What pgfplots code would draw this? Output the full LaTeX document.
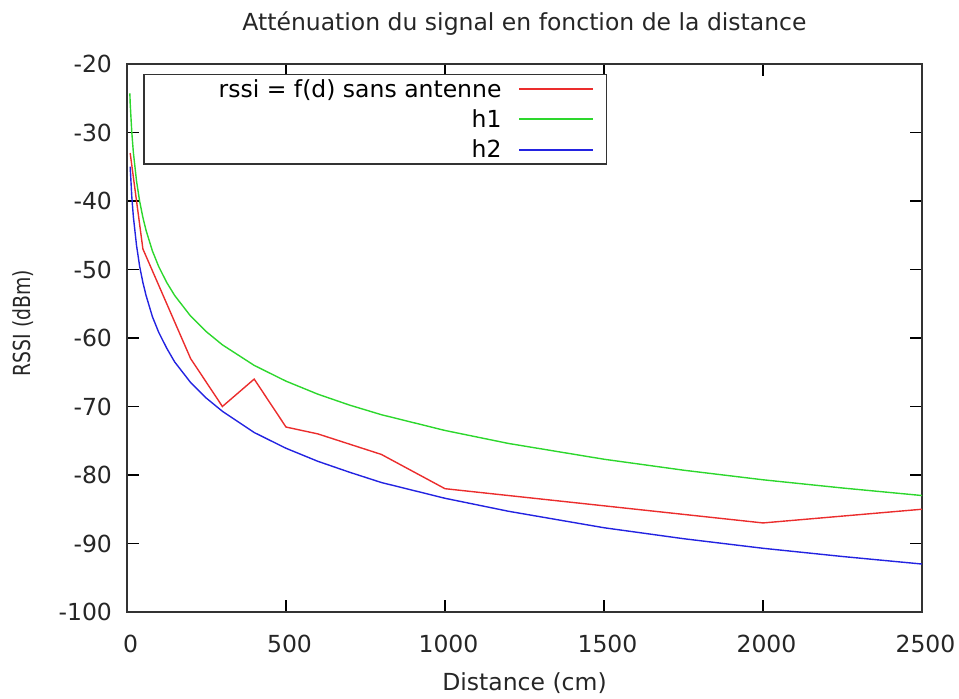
\documentclass[border=0pt]{standalone}
\usepackage{fontspec}
\setmainfont{DejaVu Sans}
\usepackage{graphicx}
\usepackage{pgfplots}
\pgfplotsset{compat=1.18}

\definecolor{cred}{RGB}{235,45,45}
\definecolor{cgreen}{RGB}{45,215,45}
\definecolor{cblue}{RGB}{35,35,225}

\begin{document}
\begin{tikzpicture}
\begin{axis}[
  scale only axis,
  width=397.5pt, height=274pt,
  xmin=0, xmax=2500,
  ymin=-100, ymax=-20,
  xtick={0,500,1000,1500,2000,2500},
  ytick={-100,-90,-80,-70,-60,-50,-40,-30,-20},
  tick align=inside,
  major tick length=6pt,
  tick style={black, line width=0.7pt},
  axis line style={line width=0.8pt, black!80},
  /pgf/number format/assume math mode=true,
  /pgf/number format/1000 sep={},
  tick label style={font=\fontsize{11.75}{14}\selectfont, text=black!85},
  xticklabel style={yshift=-8pt, xshift=1.75pt},
  yticklabel style={xshift=-4pt},
  title={Atténuation du signal en fonction de la distance},
  title style={font=\fontsize{11.75}{14}\selectfont, text=black!85, at={(0.5,1)}, anchor=center, yshift=14pt},
  xlabel={Distance (cm)},
  xlabel style={font=\fontsize{11.75}{14}\selectfont, text=black!85, at={(0.5,0)}, anchor=center, yshift=-35.5pt},
  ylabel={\scalebox{0.8}[1]{RSSI (dBm)}},
  ylabel style={font=\fontsize{11.75}{14}\selectfont, text=black!85, at={(0,0.527)}, anchor=center, yshift=52pt},
  legend plot pos=right,
  legend cell align=right,
  legend image code/.code={\draw[#1, line width=1pt] (0pt,0pt) -- (37pt,0pt);},
  legend style={at={(0.02,0.982)}, anchor=north west, draw=black!80, line width=0.8pt,
    font=\fontsize{11.75}{14}\selectfont,
    inner xsep=6pt, inner ysep=3.4pt, row sep=7.3pt, column sep=6.5pt,
    nodes={inner xsep=2pt, inner ysep=0pt, text height=0.78em, text depth=0pt}},
]
\addplot[cred, line width=0.7pt] coordinates {
  (10,-33) (50,-47) (200,-63) (300,-70) (400,-66) (500,-73) (600,-74)
  (800,-77) (1000,-82) (2000,-87) (2500,-85)};
\addlegendentry{\hspace*{29.5pt}rssi = f(d) sans antenne}
\addplot[cgreen, line width=0.7pt] coordinates {
  (9,-24.3) (10,-25.7) (15,-29.9) (20,-32.9) (30,-37.1) (40,-40.1) (50,-42.4)
  (60,-44.3) (80,-47.3) (100,-49.6) (125,-51.9) (150,-53.8) (200,-56.8)
  (250,-59.1) (300,-61.0) (400,-64.0) (500,-66.3) (600,-68.2) (700,-69.8)
  (800,-71.2) (1000,-73.5) (1200,-75.4) (1500,-77.7) (1750,-79.3)
  (2000,-80.7) (2250,-81.9) (2500,-83.0)};
\addlegendentry{h1}
\addplot[cblue, line width=0.7pt] coordinates {
  (10,-35.0) (15,-39.3) (20,-42.3) (30,-46.5) (40,-49.6) (50,-51.9)
  (60,-53.8) (80,-56.9) (100,-59.2) (125,-61.5) (150,-63.5) (200,-66.5)
  (250,-68.8) (300,-70.7) (400,-73.8) (500,-76.1) (600,-78.0) (700,-79.6)
  (800,-81.1) (1000,-83.4) (1200,-85.3) (1500,-87.7) (1750,-89.3)
  (2000,-90.7) (2250,-91.9) (2500,-93.0)};
\addlegendentry{h2}
\end{axis}
\pgfresetboundingbox
\path (-63.5pt,-43.5pt) rectangle (416pt,306pt);
\end{tikzpicture}
\end{document}
